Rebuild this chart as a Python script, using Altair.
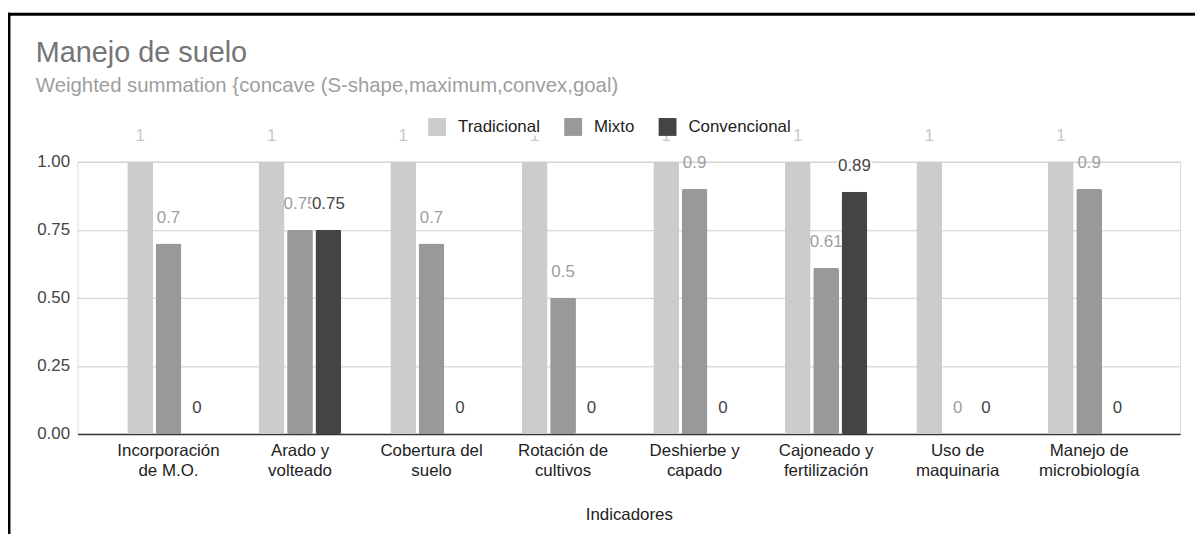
import altair as alt
import pandas as pd

categorias = [
    "Incorporación\nde M.O.",
    "Arado y\nvolteado",
    "Cobertura del\nsuelo",
    "Rotación de\ncultivos",
    "Deshierbe y\ncapado",
    "Cajoneado y\nfertilización",
    "Uso de\nmaquinaria",
    "Manejo de\nmicrobiología",
]
series = ["Tradicional", "Mixto", "Convencional"]
tradicional = [1, 1, 1, 1, 1, 1, 1, 1]
mixto = [0.7, 0.75, 0.7, 0.5, 0.9, 0.61, 0, 0.9]
convencional = [0, 0.75, 0, 0, 0, 0.89, 0, 0]
colores = ["#cccccc", "#999999", "#444444"]
colores_texto = ["#c8c8c8", "#9e9e9e", "#444444"]
y_ticks = [0, 0.25, 0.5, 0.75, 1]

rows = []
for s, vals in zip(series, [tradicional, mixto, convencional]):
    for c, v in zip(categorias, vals):
        rows.append({"Indicador": c, "Serie": s, "Valor": v})
df = pd.DataFrame(rows)

FONT = "Liberation Sans, Arial, sans-serif"

x_enc = alt.X(
    "Indicador:N",
    sort=categorias,
    scale=alt.Scale(paddingInner=0.373, paddingOuter=0.378),
    axis=alt.Axis(
        title="Indicadores",
        labelAngle=0,
        labelExpr="split(datum.value, '\\n')",
        labelFontSize=17,
        labelColor="#222222",
        labelLineHeight=20,
        labelPadding=9,
        labelBaseline="top",
        ticks=False,
        domainColor="#333333",
        domainWidth=1.5,
        titleFontSize=17,
        titleFontWeight="normal",
        titleColor="#222222",
        titlePadding=28,
        grid=False,
    ),
)
xoff_enc = alt.XOffset("Serie:N", sort=series, scale=alt.Scale(domain=series, paddingInner=0.09))
y_enc = alt.Y(
    "Valor:Q",
    scale=alt.Scale(domain=[0, 1], nice=False),
    axis=alt.Axis(
        title=None,
        values=y_ticks,
        format=".2f",
        labelFontSize=17,
        labelColor="#444444",
        labelPadding=8,
        ticks=False,
        domain=False,
        gridColor="#cccccc",
        gridWidth=1,
    ),
)

base = alt.Chart(df)

bars = base.mark_bar(cornerRadius=2).encode(
    x=x_enc,
    xOffset=xoff_enc,
    y=y_enc,
    color=alt.Color(
        "Serie:N",
        sort=series,
        scale=alt.Scale(domain=series, range=colores),
        legend=alt.Legend(
            title=None,
            orient="none",
            legendX=353,
            legendY=-44,
            direction="horizontal",
            symbolType="square",
            symbolSize=324,
            symbolStrokeWidth=0,
            symbolOpacity=1,
            labelFontSize=17,
            labelColor="#222222",
            labelFont=FONT,
            labelOffset=12,
            columnPadding=24,
            fillColor="white",
            padding=0,
        ),
    ),
)


def etiquetas(serie, color, halo=False):
    props = dict(font=FONT, fontSize=17, baseline="alphabetic", dy=-21, color=color)
    if halo:
        props.update(stroke="white", strokeWidth=4, color="white")
    return (
        base.transform_filter(alt.datum.Serie == serie)
        .mark_text(**props)
        .encode(
            x=alt.X("Indicador:N", sort=categorias),
            xOffset=alt.XOffset("Serie:N", sort=series),
            y=alt.Y("Valor:Q"),
            text=alt.Text("Valor:Q", format=".2~f"),
        )
    )


t_trad = etiquetas("Tradicional", colores_texto[0])
t_mixto = etiquetas("Mixto", colores_texto[1])
h_conv = etiquetas("Convencional", "white", halo=True)
t_conv = etiquetas("Convencional", colores_texto[2])

marco = pd.DataFrame({"k": [0]})
borde_v = alt.Chart(marco).mark_rule(color="black", strokeWidth=3).encode(
    x=alt.value(-69), y=alt.value(-150), y2=alt.value(400)
)
borde_h = alt.Chart(marco).mark_rule(color="black", strokeWidth=3).encode(
    x=alt.value(-75), x2=alt.value(1140), y=alt.value(-148.5)
)

chart = (
    alt.layer(bars, t_trad, t_mixto, h_conv, t_conv, borde_v, borde_h)
    .properties(
        width=1110,
        height=274,
        padding={"left": 70, "top": 153, "right": 15, "bottom": 99},
        autosize=alt.AutoSizeParams(type="none"),
        title=alt.TitleParams(
            text="Manejo de suelo",
            subtitle="Weighted summation {concave (S-shape,maximum,convex,goal)",
            anchor="start",
            frame="group",
            dx=-42,
            font=FONT,
            fontSize=29,
            fontWeight="normal",
            color="#757575",
            subtitleFont=FONT,
            subtitleFontSize=20.5,
            subtitleColor="#9e9e9e",
            subtitlePadding=8,
            offset=-86,
        ),
    )
    .configure_view(stroke=None)
    .configure_axis(labelFont=FONT, titleFont=FONT)
    .configure(background="white")
)

chart.save("out.html", embed_options={"renderer": "svg", "actions": False})
